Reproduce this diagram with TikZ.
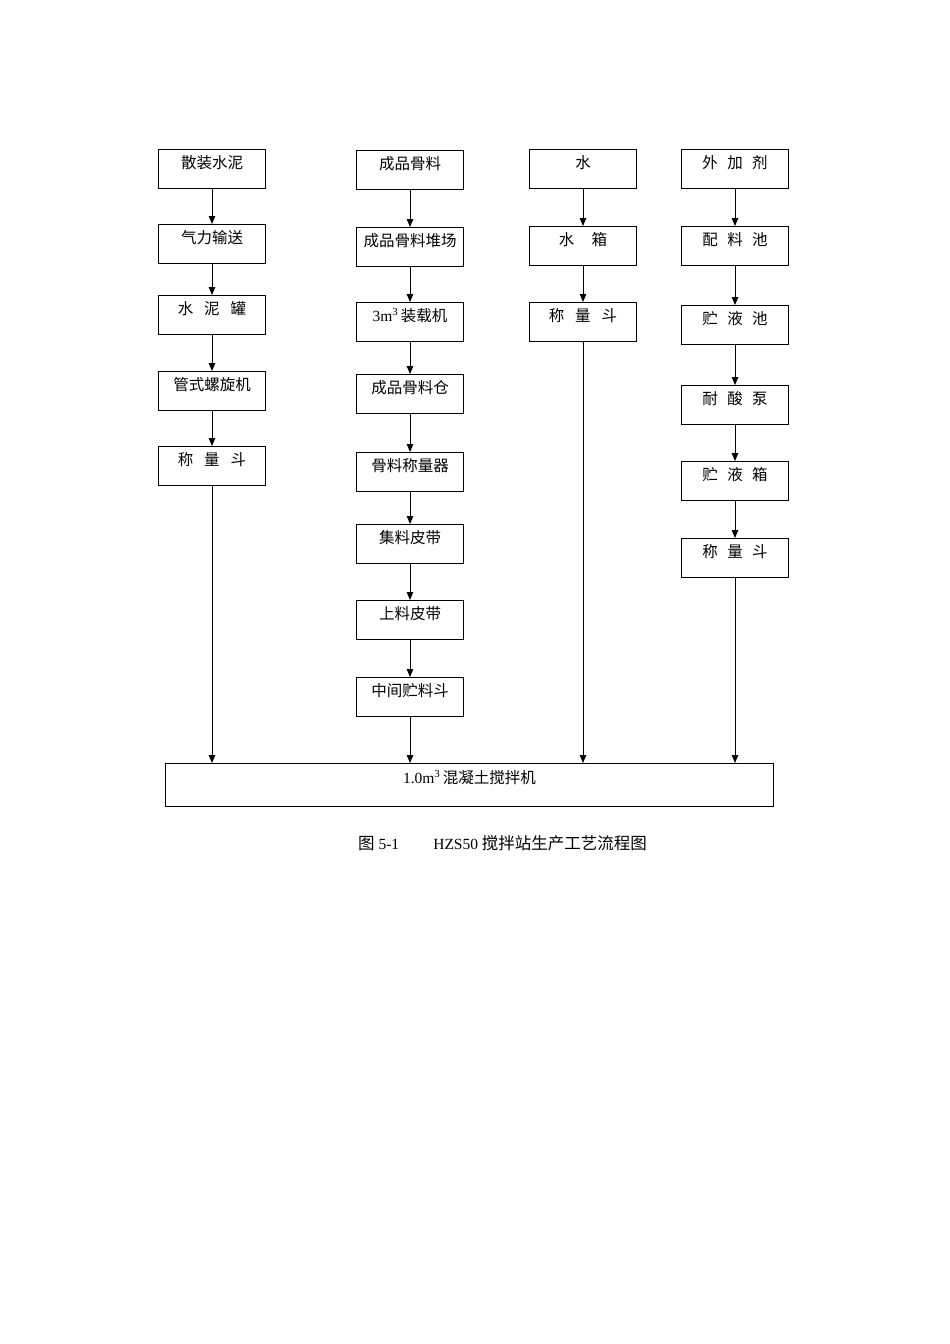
\documentclass[tikz,border=0pt]{standalone}
\usepackage{fontspec}
\setmainfont{Liberation Serif}
\newfontfamily\cjk{Noto Sans CJK SC}
\usetikzlibrary{arrows.meta}
\begin{document}
\begin{tikzpicture}[x=1pt,y=-1pt,
  box/.style={draw,line width=1pt,minimum width=107pt,minimum height=39pt,inner sep=0pt,
    text height=12pt,text depth=14pt,font=\fontsize{15.5}{16}\selectfont\cjk,anchor=north west},
  flow/.style={line width=0.9pt,-{Triangle[length=8pt,width=6.5pt]}}]
\useasboundingbox (0,0) rectangle (950,1344);
% column 1
\node[box] (a1) at (158,149) {散装水泥};
\node[box] (a2) at (158,224) {气力输送};
\node[box] (a3) at (158,295) {水\hspace{0.7em}泥\hspace{0.7em}罐};
\node[box] (a4) at (158,371) {管式螺旋机};
\node[box] (a5) at (158,446) {称\hspace{0.7em}量\hspace{0.7em}斗};
% column 2
\node[box] (b1) at (356,150) {成品骨料};
\node[box] (b2) at (356,227) {成品骨料堆场};
\node[box] (b3) at (356,302) {{\rmfamily 3m\textsuperscript{3}}\,装载机};
\node[box] (b4) at (356,374) {成品骨料仓};
\node[box] (b5) at (356,452) {骨料称量器};
\node[box] (b6) at (356,524) {集料皮带};
\node[box] (b7) at (356,600) {上料皮带};
\node[box] (b8) at (356,677) {中间贮料斗};
% column 3
\node[box] (c1) at (529,149) {水};
\node[box] (c2) at (529,226) {水\hspace{1.1em}箱};
\node[box] (c3) at (529,302) {称\hspace{0.7em}量\hspace{0.7em}斗};
% column 4
\node[box] (d1) at (681,149) {外\hspace{0.6em}加\hspace{0.6em}剂};
\node[box] (d2) at (681,226) {配\hspace{0.6em}料\hspace{0.6em}池};
\node[box] (d3) at (681,305) {贮\hspace{0.6em}液\hspace{0.6em}池};
\node[box] (d4) at (681,385) {耐\hspace{0.6em}酸\hspace{0.6em}泵};
\node[box] (d5) at (681,461) {贮\hspace{0.6em}液\hspace{0.6em}箱};
\node[box] (d6) at (681,538) {称\hspace{0.6em}量\hspace{0.6em}斗};
% mixer
\node[box,minimum width=608pt,minimum height=43pt,text depth=16pt] (m) at (165,763)
  {{\rmfamily 1.0m\textsuperscript{3}}\,混凝土搅拌机};
% arrows
\foreach \s/\t in {a1/a2,a2/a3,a3/a4,a4/a5,b1/b2,b2/b3,b3/b4,b4/b5,b5/b6,b6/b7,b7/b8,c1/c2,c2/c3,d1/d2,d2/d3,d3/d4,d4/d5,d5/d6}
  \draw[flow] (\s.south) -- (\t.north);
\foreach \s in {a5,b8,c3,d6}
  \draw[flow] (\s.south) -- (\s.south |- m.north);
% caption
\node[anchor=west,inner sep=0pt,font=\fontsize{15.5}{16}\selectfont] (cap) at (358,843)
  {{\fontsize{16.5}{17}\selectfont\cjk 图} 5-1\hspace{2.2em}HZS50 {\fontsize{16.5}{17}\selectfont\cjk 搅拌站生产工艺流程图}};
\end{tikzpicture}
\end{document}
